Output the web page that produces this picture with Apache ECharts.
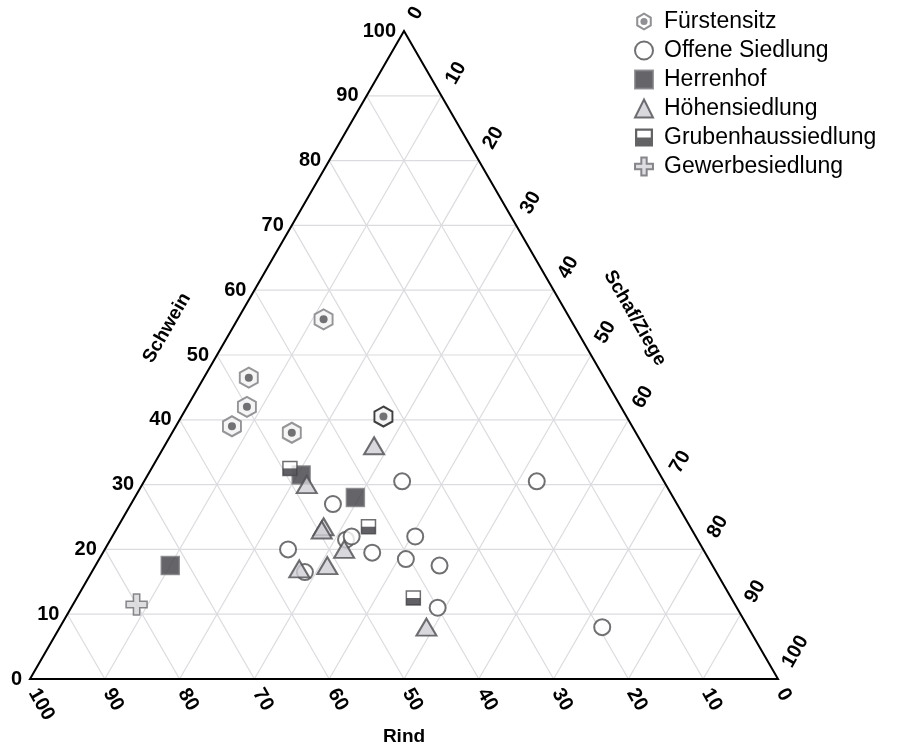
<!DOCTYPE html>
<html>
<head>
<meta charset="utf-8">
<script src="https://cdn.jsdelivr.net/npm/echarts@6/dist/echarts.min.js"></script>
<style>
  html, body { margin: 0; padding: 0; background: #fff; }
  #chart { width: 900px; height: 746px; }
</style>
</head>
<body>
<div id="chart"></div>
<script>
// Tierknochenanteile in Prozent je Fundplatz, Reihenfolge: [Rind, Schwein, Schaf/Ziege]
const fuerstensitz = [[33, 55.5, 11.5], [47.5, 46.5, 6], [50, 42, 8], [53.5, 39, 7.5], [46, 38, 16]];
const fuerstensitzHervorgehoben = [[32.5, 40.5, 27]];
const offeneSiedlung = [
  [35, 30.5, 34.5], [17, 30.5, 52.5], [46, 27, 27], [47, 21.5, 31.5], [46, 22, 32],
  [37.5, 22, 40.5], [55.5, 20, 24.5], [44.5, 19.5, 36], [40.5, 18.5, 41], [36.5, 17.5, 46],
  [55, 16.5, 28.5], [40, 11, 49], [19.5, 8, 72.5]
];
const herrenhof = [[48, 31.5, 20.5], [42.5, 28, 29.5], [72.5, 17.5, 10]];
const hoehensiedlung = [
  [36, 36, 28], [48, 30, 22], [49, 23.5, 27.5], [49.5, 23, 27.5], [48, 20, 32],
  [51.5, 17.5, 31], [55.5, 17, 27.5], [43, 8, 49]
];
const grubenhaussiedlung = [[49, 32.5, 18.5], [43, 23.5, 33.5], [42.5, 12.5, 45]];
const gewerbesiedlung = [[80, 11.5, 8.5]];

// Achsbeschriftung
const tickValues = [0, 10, 20, 30, 40, 50, 60, 70, 80, 90, 100];
const gridSteps = [10, 20, 30, 40, 50, 60, 70, 80, 90];
const axisTitles = ['Schwein', 'Schaf/Ziege', 'Rind'];

// Dreieckskoordinaten -> kartesische Ebene (Rind links unten, Schwein oben, Schaf/Ziege rechts unten)
const H = Math.sqrt(3) / 2;
function toXY(t) {
  const sum = t[0] + t[1] + t[2];
  const s = t[1] / sum * 100;
  const z = t[2] / sum * 100;
  return [z + s / 2, s * H];
}

const gridSegments = [];
gridSteps.forEach(function (k) {
  gridSegments.push(toXY([100 - k, k, 0]).concat(toXY([0, k, 100 - k])));
  gridSegments.push(toXY([k, 100 - k, 0]).concat(toXY([k, 0, 100 - k])));
  gridSegments.push(toXY([100 - k, 0, k]).concat(toXY([0, 100 - k, k])));
});
const corners = [toXY([100, 0, 0]), toXY([0, 100, 0]), toXY([0, 0, 100])];

const FONT = '"Liberation Sans", Arial, Helvetica, sans-serif';
const HEX = 'path://M10,0 L18.66,5 L18.66,15 L10,20 L1.34,15 L1.34,5 Z';
const HEX_LEGEND = 'path://M10,0 L18.66,5 L18.66,15 L10,20 L1.34,15 L1.34,5 Z ' +
  'M10,2.6 L3.6,6.3 L3.6,13.7 L10,17.4 L16.4,13.7 L16.4,6.3 Z ' +
  'M14,10 A4,4 0 1,1 6,10 A4,4 0 1,1 14,10 Z';
const HALF_BOX_LEGEND = 'path://M0,0 L20,0 L20,20 L0,20 Z M2.5,2.5 L2.5,17.5 L17.5,17.5 L17.5,2.5 Z M2.5,10 L17.5,10 L17.5,17.5 L2.5,17.5 Z';
const CROSS = 'path://M7,0 L13,0 L13,7 L20,7 L20,13 L13,13 L13,20 L7,20 L7,13 L0,13 L0,7 L7,7 Z';

// Beschriftung je Achse: Ankerpunkt auf der Kante, Versatz in Pixeln, Drehung
function tickSeries(pointOf, dx, dy, rotation, align) {
  return {
    type: 'custom',
    coordinateSystem: 'cartesian2d',
    silent: true,
    z: 5,
    data: tickValues.map(function (v) { return pointOf(v); }),
    renderItem: function (params, api) {
      const p = api.coord([api.value(0), api.value(1)]);
      return {
        type: 'text',
        x: p[0] + dx,
        y: p[1] + dy,
        rotation: rotation,
        style: {
          text: String(tickValues[params.dataIndex]),
          font: 'bold 20px ' + FONT,
          fill: '#000',
          align: align,
          verticalAlign: 'middle'
        }
      };
    }
  };
}

const titleAnchors = [toXY([50, 50, 0]), toXY([0, 50, 50]), toXY([50, 0, 50])];
const titleLayout = [
  { dx: -50, dy: -27, rot: Math.PI / 3 },
  { dx: 44, dy: -37, rot: -Math.PI / 3 },
  { dx: 0, dy: 58, rot: 0 }
];

function scatter(name, data, symbol, size, style, extra) {
  return Object.assign({
    type: 'scatter',
    name: name,
    data: data.map(toXY),
    symbol: symbol,
    symbolSize: size,
    itemStyle: style,
    emphasis: { disabled: true }
  }, extra || {});
}

const chart = echarts.init(document.getElementById('chart'), null, { renderer: 'canvas' });
chart.setOption({
  animation: false,
  backgroundColor: '#fff',
  grid: { left: 30, right: 122, top: 31, bottom: 67 },
  xAxis: { type: 'value', min: 0, max: 100, show: false },
  yAxis: { type: 'value', min: 0, max: 100 * H, show: false },
  legend: {
    orient: 'vertical',
    left: 629,
    top: 5,
    itemWidth: 18,
    itemHeight: 18,
    itemGap: 6,
    textStyle: { fontFamily: FONT, fontSize: 23, color: '#000', lineHeight: 18, padding: [0, 0, 0, 6] },
    data: [
      { name: 'Fürstensitz', icon: HEX_LEGEND, itemStyle: { color: '#75757a', borderWidth: 0 } },
      { name: 'Offene Siedlung' },
      { name: 'Herrenhof' },
      { name: 'Höhensiedlung' },
      { name: 'Grubenhaussiedlung', icon: HALF_BOX_LEGEND, itemStyle: { color: '#3c3c40', borderWidth: 0 } },
      { name: 'Gewerbesiedlung' }
    ]
  },
  series: [
    {
      type: 'custom',
      coordinateSystem: 'cartesian2d',
      silent: true,
      z: 1,
      encode: { x: [0, 2], y: [1, 3] },
      data: gridSegments,
      renderItem: function (params, api) {
        const a = api.coord([api.value(0), api.value(1)]);
        const b = api.coord([api.value(2), api.value(3)]);
        return {
          type: 'line',
          shape: { x1: a[0], y1: a[1], x2: b[0], y2: b[1] },
          style: { stroke: '#dcdce0', lineWidth: 1.2 }
        };
      }
    },
    {
      type: 'custom',
      coordinateSystem: 'cartesian2d',
      silent: true,
      z: 2,
      data: corners,
      renderItem: function (params, api) {
        if (params.dataIndex !== 0) return null;
        const pts = corners.map(function (c) { return api.coord(c); });
        return {
          type: 'polygon',
          shape: { points: pts },
          style: { fill: 'none', stroke: '#000', lineWidth: 2, lineJoin: 'miter' }
        };
      }
    },
    // Schwein (linke Kante)
    tickSeries(function (v) { return toXY([100 - v, v, 0]); }, -8, 0, 0, 'right'),
    // Schaf/Ziege (rechte Kante)
    tickSeries(function (v) { return toXY([0, 100 - v, v]); }, 9, -13, Math.PI / 3, 'left'),
    // Rind (Grundlinie)
    tickSeries(function (v) { return toXY([v, 0, 100 - v]); }, 3, 11, -Math.PI / 3, 'left'),
    {
      type: 'custom',
      coordinateSystem: 'cartesian2d',
      silent: true,
      z: 5,
      data: titleAnchors,
      renderItem: function (params, api) {
        const p = api.coord([api.value(0), api.value(1)]);
        const l = titleLayout[params.dataIndex];
        return {
          type: 'text',
          x: p[0] + l.dx,
          y: p[1] + l.dy,
          rotation: l.rot,
          style: {
            text: axisTitles[params.dataIndex],
            font: 'bold 19px ' + FONT,
            fill: '#000',
            align: 'center',
            verticalAlign: 'middle'
          }
        };
      }
    },
    scatter('Fürstensitz', fuerstensitz, HEX, [18, 20],
      { color: '#f2f2f4', borderColor: '#7c7c80', borderWidth: 2 }, { z: 10 }),
    scatter('Fürstensitz', fuerstensitzHervorgehoben, HEX, [18, 20],
      { color: '#f2f2f4', borderColor: '#111', borderWidth: 2 }, { z: 10 }),
    scatter('Fürstensitz Kern', fuerstensitz.concat(fuerstensitzHervorgehoben), 'circle', 8,
      { color: '#505054' }, { z: 11, silent: true }),
    scatter('Offene Siedlung', offeneSiedlung, 'circle', 16,
      { color: '#fff', borderColor: '#4c4c50', borderWidth: 2 }, { z: 12 }),
    scatter('Herrenhof', herrenhof, 'rect', 18,
      { color: '#3e3e43', borderColor: '#808084', borderWidth: 1.5 }, { z: 13 }),
    scatter('Höhensiedlung', hoehensiedlung, 'triangle', [20, 17],
      { color: '#d0d0d4', borderColor: '#4c4c50', borderWidth: 2 }, { z: 14 }),
    scatter('Grubenhaussiedlung', grubenhaussiedlung, 'rect', 14,
      { color: '#fff', borderColor: '#4c4c50', borderWidth: 1.5 }, { z: 15 }),
    scatter('Grubenhaussiedlung Boden', grubenhaussiedlung, 'rect', [14, 7],
      { color: '#3a3a3e' }, { z: 16, silent: true, symbolOffset: [0, 3.5] }),
    scatter('Gewerbesiedlung', gewerbesiedlung, CROSS, 21,
      { color: '#d6d6da', borderColor: '#6c6c70', borderWidth: 1.5 }, { z: 17 })
  ]
});
</script>
</body>
</html>
